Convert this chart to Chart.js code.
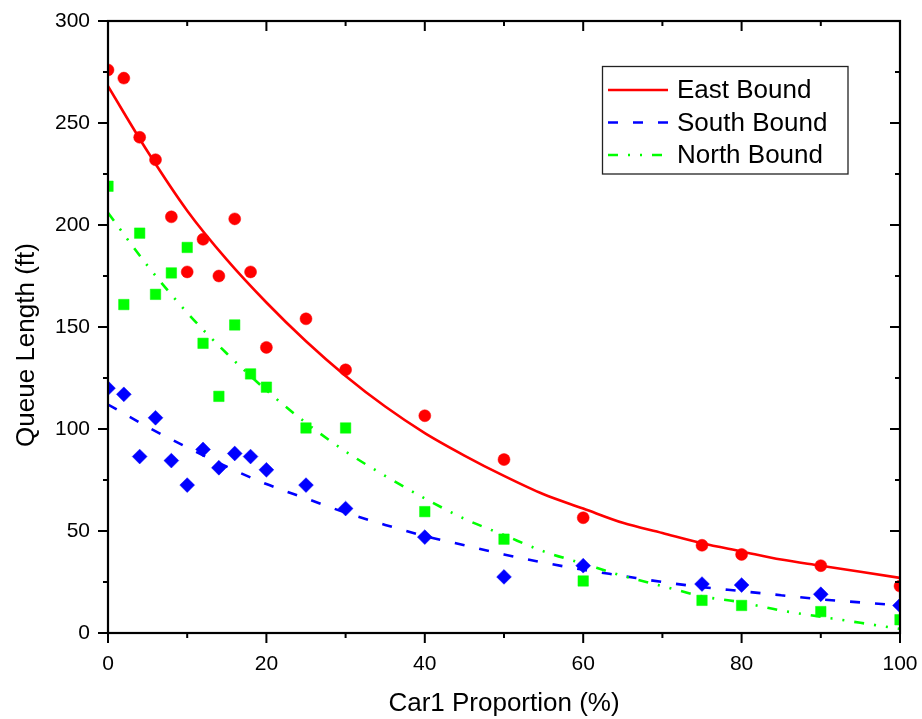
<!DOCTYPE html>
<html>
<head>
<meta charset="utf-8">
<script src="https://cdn.jsdelivr.net/npm/chart.js@4/dist/chart.umd.min.js"></script>
<style>
  html, body { margin: 0; padding: 0; background: #ffffff; }
  #wrap { width: 922px; height: 719px; }
</style>
</head>
<body>
<div id="wrap"><canvas id="c" width="922" height="719"></canvas></div>
<script>
// ---- data ----
const xPoints = [0, 2, 4, 6, 8, 10, 12, 14, 16, 18, 20, 25, 30, 40, 50, 60, 75, 80, 90, 100];
const eastPoints  = [276, 272, 243, 232, 204, 177, 193, 175, 203, 177, 140, 154, 129, 106.5, 85, 56.5, 43, 38.5, 33, 23];
const southPoints = [120, 117, 86.5, 105.5, 84.5, 72.5, 90, 81, 88, 86.5, 80, 72.5, 61, 47, 27.5, 33, 24, 23.5, 19, 13.5];
const northPoints = [219, 161, 196, 166, 176.5, 189, 142, 116, 151, 127, 120.5, 100.5, 100.5, 59.5, 46, 25.5, 16, 13.5, 10.5, 6.5];

const fitX      = [0, 5, 10, 15, 20, 25, 30, 35, 40, 45, 50, 55, 60, 65, 70, 75, 80, 85, 90, 95, 100];
const eastFit   = [268, 236, 207, 183, 162, 143, 126, 111, 98, 87, 77, 68, 61, 54, 49, 44, 40, 36, 33, 30, 27];
const southFit  = [112, 101, 91, 81.5, 73, 66, 59, 53, 47.5, 43, 38.5, 34.5, 31, 28, 25, 22.5, 20.5, 18.5, 16.5, 15, 13.5];
const northFit  = [206, 180, 157, 137, 119, 103, 89, 77, 66, 56, 48, 40, 34, 28, 23, 18, 15, 11, 8, 5, 2];

const seriesNames = ['East Bound', 'South Bound', 'North Bound'];
const xTicks = [0, 20, 40, 60, 80, 100];
const yTicks = [0, 50, 100, 150, 200, 250, 300];
const xTitle = 'Car1 Proportion (%)';
const yTitle = 'Queue Length (ft)';

// ---- helpers ----
function pts(xs, ys) { return xs.map((x, i) => ({ x: x, y: ys[i] })); }
const FONT = '"Liberation Sans", Arial, Helvetica, sans-serif';
const RED = '#ff0000', BLUE = '#0000ff', GREEN = '#00ff00';

const datasets = [
  { label: seriesNames[0], data: pts(fitX, eastFit), showLine: true, borderColor: RED, borderWidth: 2.6,
    pointRadius: 0, cubicInterpolationMode: 'monotone', clip: 0, order: 5, isFit: true },
  { label: seriesNames[1], data: pts(fitX, southFit), showLine: true, borderColor: BLUE, borderWidth: 2.6,
    borderDash: [10, 15], pointRadius: 0, cubicInterpolationMode: 'monotone', clip: 0, order: 6, isFit: true },
  { label: seriesNames[2], data: pts(fitX, northFit), showLine: true, borderColor: GREEN, borderWidth: 2.6,
    borderDash: [10, 10, 2, 10, 2, 10], pointRadius: 0, cubicInterpolationMode: 'monotone', clip: 0, order: 4, isFit: true },
  { label: seriesNames[0] + ' data', data: pts(xPoints, eastPoints), showLine: false, pointStyle: 'circle',
    pointRadius: 6, backgroundColor: RED, borderColor: RED, borderWidth: 0.5, clip: 0, order: 3 },
  { label: seriesNames[2] + ' data', data: pts(xPoints, northPoints), showLine: false, pointStyle: 'rect',
    pointRadius: 7.4, backgroundColor: GREEN, borderColor: GREEN, borderWidth: 0.5, clip: 0, order: 2 },
  { label: seriesNames[1] + ' data', data: pts(xPoints, southPoints), showLine: false, pointStyle: 'rectRot',
    pointRadius: 7.4, backgroundColor: BLUE, borderColor: BLUE, borderWidth: 0.5, clip: 0, order: 1 }
];

const framePlugin = {
  id: 'frame',
  afterDatasetsDraw(chart) {
    const ctx = chart.ctx;
    const a = chart.chartArea;
    const xs = chart.scales.x, ys = chart.scales.y;
    ctx.save();
    ctx.strokeStyle = '#000';
    ctx.lineWidth = 2.2;
    ctx.strokeRect(a.left, a.top, a.right - a.left, a.bottom - a.top);
    ctx.lineWidth = 2;
    const MAJ = 10, MIN = 5;
    ctx.beginPath();
    for (let v = xs.min; v <= xs.max; v += 10) {
      const px = xs.getPixelForValue(v);
      const L = (v % 20 === 0) ? MAJ : MIN;
      ctx.moveTo(px, a.bottom); ctx.lineTo(px, a.bottom + L);   // bottom: outward
      ctx.moveTo(px, a.top); ctx.lineTo(px, a.top + L);         // top: inward
    }
    for (let v = ys.min; v <= ys.max; v += 25) {
      const py = ys.getPixelForValue(v);
      const L = (v % 50 === 0) ? MAJ : MIN;
      ctx.moveTo(a.left, py); ctx.lineTo(a.left - L, py);       // left: outward
      ctx.moveTo(a.right, py); ctx.lineTo(a.right - L, py);     // right: inward
    }
    ctx.stroke();

    // y axis title
    ctx.fillStyle = '#000';
    ctx.font = '26px ' + FONT;
    ctx.textAlign = 'center';
    ctx.textBaseline = 'middle';
    ctx.translate(27, 345);
    ctx.rotate(-Math.PI / 2);
    ctx.fillText(yTitle, 0, 0);
    ctx.restore();

    // legend
    ctx.save();
    const bx = 602.5, by = 66.5, bw = 245.5, bh = 107.5;
    ctx.fillStyle = '#fff';
    ctx.fillRect(bx, by, bw, bh);
    ctx.strokeStyle = '#222';
    ctx.lineWidth = 1.3;
    ctx.strokeRect(bx, by, bw, bh);
    const rows = [90, 122.5, 155];
    const fits = chart.data.datasets.filter(d => d.isFit);
    fits.forEach((d, i) => {
      const y = rows[i];
      ctx.strokeStyle = d.borderColor;
      ctx.lineWidth = 2.6;
      ctx.setLineDash(d.borderDash || []);
      ctx.beginPath();
      ctx.moveTo(608, y); ctx.lineTo(668, y);
      ctx.stroke();
      ctx.setLineDash([]);
      ctx.fillStyle = '#000';
      ctx.font = '26px ' + FONT;
      ctx.textAlign = 'left';
      ctx.textBaseline = 'middle';
      ctx.fillText(d.label, 677, y + 1);
    });
    ctx.restore();
  }
};

function noPad(s) { s.paddingLeft = 0; s.paddingRight = 0; s.paddingTop = 0; s.paddingBottom = 0; }

new Chart(document.getElementById('c'), {
  type: 'scatter',
  data: { datasets: datasets },
  plugins: [framePlugin],
  options: {
    responsive: false,
    animation: false,
    devicePixelRatio: 1,
    layout: { padding: { left: 0, right: 22, top: 21, bottom: 0 } },
    plugins: { legend: { display: false }, tooltip: { enabled: false } },
    scales: {
      x: {
        type: 'linear', min: 0, max: 100,
        afterFit(s) { s.height = 86; noPad(s); },
        afterBuildTicks(s) { s.ticks = xTicks.map(v => ({ value: v })); },
        grid: { display: false, drawTicks: false },
        border: { display: false },
        ticks: { color: '#000', padding: 19, font: { family: FONT, size: 21 }, maxRotation: 0 },
        title: { display: true, text: xTitle, color: '#000', font: { family: FONT, size: 26 }, padding: { top: 0, bottom: 0 } }
      },
      y: {
        type: 'linear', min: 0, max: 300,
        afterFit(s) { s.width = 108; noPad(s); },
        afterBuildTicks(s) { s.ticks = yTicks.map(v => ({ value: v })); },
        grid: { display: false, drawTicks: false },
        border: { display: false },
        ticks: { color: '#000', padding: 18, font: { family: FONT, size: 21 } }
      }
    }
  }
});
</script>
</body>
</html>
